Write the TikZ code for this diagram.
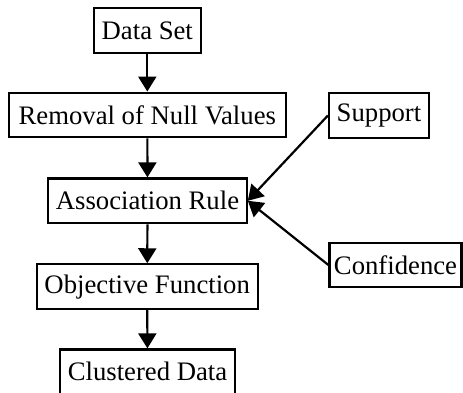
\documentclass[tikz,border=0pt]{standalone}
\usepackage{fontspec}
\setmainfont{Liberation Serif}
\usetikzlibrary{arrows.meta}
\begin{document}
\begin{tikzpicture}[x=1bp,y=-1bp,
  box/.style={draw, line width=2.2bp, inner sep=0pt, minimum height=44.7bp,
    font=\fontsize{26.8}{30}\selectfont},
  conn/.style={line width=2.2bp, -{Triangle[length=15bp,width=18bp]}}]
\useasboundingbox (0,0) rectangle (463,392);
\node[box, minimum width=106.7bp] (ds) at (147.3,30.4) {Data Set};
\node[box, minimum width=276.7bp] (rn) at (147.3,115) {Removal of Null Values};
\node[box, minimum width=100bp] (sp) at (379,115.5) {Support};
\node[box, minimum width=198.4bp] (ar) at (147.5,200.8) {Association Rule};
\node[box, minimum width=221bp] (of) at (147.2,286.7) {Objective Function};
\node[box, minimum width=175bp] (cd) at (147.5,371.8) {Clustered Data};
\node[box, minimum width=132bp] (cf) at (395.5,265) {Confidence};
\draw[conn] (ds) -- (rn);
\draw[conn] (rn) -- (ar);
\draw[conn] (ar) -- (of);
\draw[conn] (of) -- (cd);
\draw[conn] (sp.west) -- (ar.east);
\draw[conn] (cf.west) -- (ar.east);
\end{tikzpicture}
\end{document}
